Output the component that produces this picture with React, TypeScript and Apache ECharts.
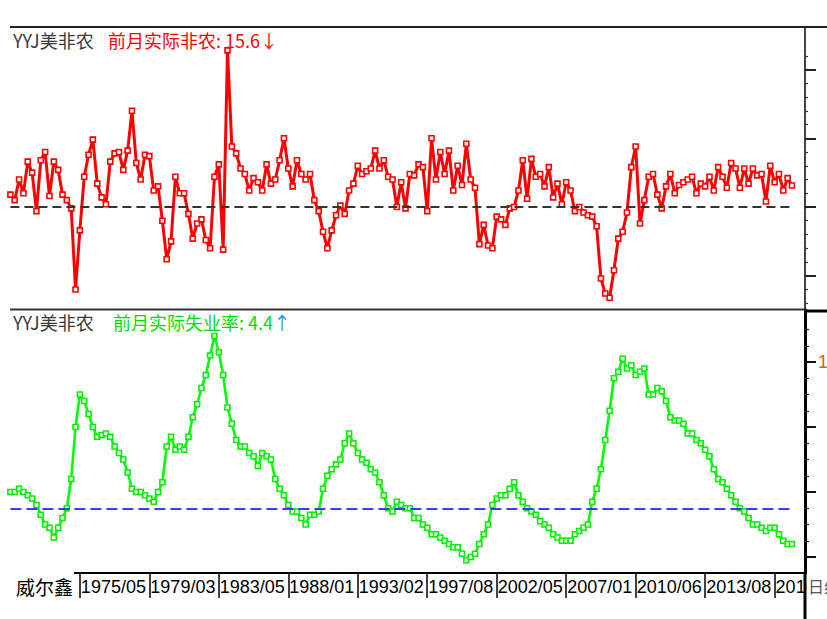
import React, { useEffect, useRef } from "react";
import * as echarts from "echarts";

// ---- data ----
const dateLabels = ["1975/05", "1979/03", "1983/05", "1988/01", "1993/02", "1997/08", "2002/05", "2007/01", "2010/06", "2013/08", "2016/10"];
const labelStep = 16;
const categoryCount = 184;

// 前月实际非农 (万)
const payrollChange = [
  9, 5, 20, 10, 33, 25, -3, 34, 40, 8,
  33, 27, 9, 5, -1, -60, -17, 22, 38, 49,
  17, 7, 2, 33, 39, 40, 27, 41, 70, 32,
  20, 38, 37, 12, 15, -10, -38, -25, 22, 10,
  10, -5, -23, -12, -9, -24, -30, 22, 31, -31,
  114, 44, 39, 28, 24, 12, 21, 18, 12, 31,
  17, 20, 34, 50, 28, 15, 34, 24, 20, 24,
  5, -3, -18, -30, -17, -6, 1, -5, 12, 17,
  30, 24, 26, 28, 41, 28, 34, 22, 20, 0,
  18, -1, 24, 23, 31, 29, -3, 50, 20, 40,
  24, 41, 12, 30, 16, 46, 20, 14, -27, -13,
  -28, -30, -7, -9, -13, -1, 0, 12, 34, 6,
  35, 22, 24, 15, 29, 7, 17, 2, 18, 12,
  -3, 0, -4, -6, -7, -14, -52, -63, -66, -46,
  -23, -18, -4, 29, 44, -12, 5, 22, 24, 9,
  -1, 15, 24, 10, 16, 18, 20, 22, 10, 17,
  15, 22, 12, 29, 22, 14, 32, 28, 14, 28,
  17, 28, 23, 24, 4, 30, 18, 24, 12, 21, 15.6,
];

// 前月实际失业率 (%)
const unemploymentRate = [
  6.0, 6.0, 6.1, 6.0, 5.9, 5.8, 5.6, 5.3, 5.0, 4.9,
  4.6, 4.9, 5.2, 5.5, 6.4, 8.0, 9.0, 8.8, 8.4, 8.0,
  7.7, 7.75, 7.8, 7.7, 7.4, 7.2, 7.0, 6.6, 6.1, 6.0,
  6.0, 5.9, 5.8, 5.7, 6.0, 6.3, 7.4, 7.7, 7.3, 7.4,
  7.3, 7.7, 8.3, 8.7, 9.2, 9.6, 10.2, 10.8, 10.3, 9.6,
  8.6, 8.1, 7.6, 7.4, 7.4, 7.2, 7.1, 6.8, 7.2, 7.1,
  7.0, 6.4, 6.1, 5.9, 5.6, 5.4, 5.4, 5.2, 5.0, 5.3,
  5.3, 5.4, 6.1, 6.5, 6.7, 6.85, 7.0, 7.5, 7.8, 7.5,
  7.2, 7.0, 6.9, 6.7, 6.6, 6.3, 5.9, 5.5, 5.4, 5.7,
  5.6, 5.5, 5.5, 5.2, 5.2, 5.0, 4.9, 4.7, 4.7, 4.6,
  4.5, 4.4, 4.3, 4.3, 4.1, 3.9, 4.0, 4.1, 4.4, 4.7,
  5.0, 5.6, 5.8, 5.9, 5.9, 6.1, 6.3, 5.9, 5.7, 5.5,
  5.4, 5.3, 5.1, 5.0, 4.9, 4.7, 4.6, 4.5, 4.5, 4.5,
  4.7, 4.8, 4.9, 5.0, 5.7, 6.1, 6.7, 7.6, 8.5, 9.5,
  9.7, 10.1, 9.8, 9.9, 9.6, 9.7, 9.8, 9.0, 9.0, 9.2,
  9.1, 8.8, 8.3, 8.2, 8.2, 8.1, 7.8, 7.8, 7.6, 7.5,
  7.3, 7.1, 6.7, 6.4, 6.3, 6.1, 5.9, 5.7, 5.5, 5.4,
  5.2, 5.0, 5.0, 4.9, 4.8, 4.9, 4.9, 4.7, 4.5, 4.4, 4.4,
];

const payrollZero = 0;
const unemploymentRef = 5.5;
const payrollMinorTicks = { min: -70, max: 110, interval: 10 };
const payrollMajorTicks = { min: -50, max: 100, interval: 50 };
const rateMinorTicks = { min: 4, max: 11, interval: 0.5 };
const rateMajorTicks = { min: 4, max: 10, interval: 2 };
const rateShownLabel = 10;

const lastPayroll = payrollChange[payrollChange.length - 1];
const lastRate = unemploymentRate[unemploymentRate.length - 1];

const categories = Array.from({ length: categoryCount }, (_, i) => {
  const k = i / labelStep;
  return i % labelStep === 0 && k >= 1 && k <= dateLabels.length ? dateLabels[k - 1] : "";
});
const isLabelIdx = (i: number) => i % labelStep === 0 && i > 0 && i / labelStep <= dateLabels.length;

// ---- layout ----
const plotLeft = 10.4;
const axisX = 805;
const plotWidth = axisX - plotLeft;
const topY = 27;
const sepY = 310;
const zeroY = 207;
const pxTop = 68.7 / 50;
const bottomY = 573;
const y10 = 362;
const pxBot = 32.5;

const topMin = -(sepY - zeroY) / pxTop;
const topMax = (zeroY - topY) / pxTop;
const botMin = 10 - (bottomY - y10) / pxBot;
const botMax = 10 + (y10 - sepY) / pxBot;

const yTop = (v: number) => zeroY - v * pxTop;
const yBot = (v: number) => y10 - (v - 10) * pxBot;

const mkGrid = (top: number, bottom: number) => ({
  left: plotLeft,
  width: plotWidth,
  top,
  height: bottom - top,
  containLabel: false,
  outerBoundsMode: "none",
});

const cjk = '"Noto Sans CJK SC", "Noto Sans", sans-serif';

export default function App() {
  const ref = useRef<HTMLDivElement>(null);
  useEffect(() => {
    if (!ref.current) return;
    const chart = echarts.init(ref.current, undefined, { renderer: "svg" });
    const tickAxis = (grid: number, t: { min: number; max: number; interval: number }, len: number, width: number, color: string) => ({
      type: "value",
      gridIndex: grid,
      position: "right",
      min: t.min,
      max: t.max,
      interval: t.interval,
      axisLine: { show: false, onZero: false },
      axisTick: { show: true, length: len, lineStyle: { color, width } },
      axisLabel: { show: false },
      splitLine: { show: false },
    });
    const hiddenX = (grid: number) => ({ type: "category", gridIndex: grid, data: categories, boundaryGap: false, show: false });

    chart.setOption({
      animation: false,
      backgroundColor: "#ffffff",
      grid: [
        mkGrid(topY, sepY),
        mkGrid(sepY, bottomY),
        mkGrid(yTop(payrollMinorTicks.max), yTop(payrollMinorTicks.min)),
        mkGrid(yTop(payrollMajorTicks.max), yTop(payrollMajorTicks.min)),
        mkGrid(yBot(rateMinorTicks.max), yBot(rateMinorTicks.min)),
        mkGrid(yBot(rateMajorTicks.max), yBot(rateMajorTicks.min)),
      ],
      xAxis: [
        { type: "category", gridIndex: 0, data: categories, boundaryGap: false, show: false },
        {
          type: "category",
          gridIndex: 1,
          data: categories,
          boundaryGap: false,
          axisLine: { show: true, lineStyle: { color: "#000", width: 2 } },
          axisTick: { show: true, interval: (i: number) => isLabelIdx(i), length: 25, lineStyle: { color: "#000", width: 1.5 } },
          axisLabel: {
            interval: (i: number) => isLabelIdx(i),
            align: "left",
            margin: 5,
            padding: [0, 0, 0, 1],
            fontSize: 18,
            fontFamily: "Liberation Sans, Arial, sans-serif",
            color: "#000",
          },
          splitLine: { show: false },
        },
        hiddenX(2),
        hiddenX(3),
        hiddenX(4),
        hiddenX(5),
      ],
      yAxis: [
        {
          type: "value",
          gridIndex: 0,
          position: "right",
          min: topMin,
          max: topMax,
          axisLine: { show: true, onZero: false, lineStyle: { color: "#444", width: 2 } },
          axisTick: { show: false },
          axisLabel: { show: false },
          splitLine: { show: false },
        },
        {
          type: "value",
          gridIndex: 1,
          position: "right",
          min: botMin,
          max: botMax,
          axisLine: { show: true, onZero: false, lineStyle: { color: "#000", width: 3 } },
          axisTick: { show: false },
          axisLabel: { show: false },
          splitLine: { show: false },
        },
        tickAxis(2, payrollMinorTicks, 3, 1.2, "#333"),
        tickAxis(3, payrollMajorTicks, 11, 2, "#222"),
        tickAxis(4, rateMinorTicks, 4, 1.2, "#222"),
        {
          ...tickAxis(5, rateMajorTicks, 11, 2, "#111"),
          axisLabel: {
            show: true,
            margin: 13,
            fontSize: 18,
            fontFamily: "Liberation Sans, Arial, sans-serif",
            color: "#c86a1e",
            formatter: (v: number) => (v === rateShownLabel ? String(v) : ""),
          },
        },
      ],
      series: [
        {
          type: "line",
          name: "前月实际非农",
          xAxisIndex: 0,
          yAxisIndex: 0,
          data: payrollChange,
          symbol: "rect",
          symbolSize: 5,
          showAllSymbol: true,
          lineStyle: { color: "#ff0000", width: 3 },
          itemStyle: { color: "#ffffff", borderColor: "#ff0000", borderWidth: 1.6 },
          emphasis: { disabled: true },
          markLine: {
            silent: true,
            symbol: "none",
            label: { show: false },
            lineStyle: { color: "#333", width: 2, type: [9, 5] },
            data: [[{ xAxis: 0, yAxis: payrollZero }, { xAxis: payrollChange.length - 1, yAxis: payrollZero }]],
          },
        },
        {
          type: "line",
          name: "前月实际失业率",
          xAxisIndex: 1,
          yAxisIndex: 1,
          data: unemploymentRate,
          symbol: "rect",
          symbolSize: 5,
          showAllSymbol: true,
          lineStyle: { color: "#00ff00", width: 2.6 },
          itemStyle: { color: "#ffffff", borderColor: "#00f000", borderWidth: 1.6 },
          emphasis: { disabled: true },
          markLine: {
            silent: true,
            symbol: "none",
            label: { show: false },
            lineStyle: { color: "#3a3aff", width: 2, type: [11, 5] },
            data: [[{ xAxis: 0, yAxis: unemploymentRef }, { xAxis: unemploymentRate.length - 1, yAxis: unemploymentRef }]],
          },
        },
      ],
      graphic: [
        { type: "line", z: 40, shape: { x1: 10, y1: topY, x2: 827, y2: topY }, style: { stroke: "#222", lineWidth: 2 } },
        { type: "line", z: 40, shape: { x1: 10, y1: sepY - 0.5, x2: axisX, y2: sepY - 0.5 }, style: { stroke: "#333", lineWidth: 2 } },
        { type: "line", z: 40, shape: { x1: axisX, y1: sepY + 1, x2: 827, y2: sepY + 1 }, style: { stroke: "#000", lineWidth: 3 } },
        { type: "line", z: 40, shape: { x1: axisX, y1: bottomY, x2: axisX, y2: 619 }, style: { stroke: "#000", lineWidth: 3 } },
        { type: "rect", z: 50, shape: { x: 0, y: bottomY - 2, width: 74, height: 46 }, style: { fill: "#fff" } },
        { type: "rect", z: 50, shape: { x: axisX + 2, y: bottomY + 2, width: 30, height: 44 }, style: { fill: "#fff" } },
        {
          type: "text", z: 60, x: 16, y: 586,
          style: { text: "威尔鑫", font: "19px " + cjk, fill: "#000", verticalAlign: "middle" },
        },
        {
          type: "text", z: 60, x: 808, y: 586,
          style: { text: "日线", font: "16px " + cjk, fill: "#555", verticalAlign: "middle" },
        },
        {
          type: "text", z: 60, x: 13, y: 40,
          style: { text: "YYJ美非农", font: "18px " + cjk, fill: "#3a3a3a", verticalAlign: "middle" },
        },
        {
          type: "text", z: 60, x: 108, y: 40,
          style: { text: "前月实际非农: " + lastPayroll + "↓", font: "18px " + cjk, fill: "#ff0000", verticalAlign: "middle" },
        },
        {
          type: "text", z: 60, x: 13, y: 322,
          style: { text: "YYJ美非农", font: "18px " + cjk, fill: "#3a3a3a", verticalAlign: "middle" },
        },
        {
          type: "text", z: 60, x: 113, y: 322,
          style: {
            text: "{a|前月实际失业率: " + lastRate + "}{b|↑}",
            verticalAlign: "middle",
            rich: {
              a: { font: "18px " + cjk, fill: "#00e000", color: "#00e000" },
              b: { font: "18px " + cjk, fill: "#1e8fff", color: "#1e8fff" },
            },
          },
        },
      ],
    });
    return () => chart.dispose();
  }, []);
  return <div ref={ref} style={{ position: "absolute", left: 0, top: 0, width: 827, height: 619 }} />;
}
